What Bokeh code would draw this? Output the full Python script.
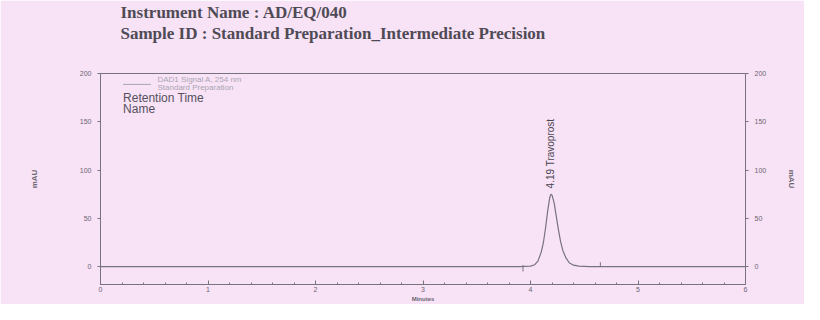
import math
from bokeh.plotting import figure
from bokeh.models import Range1d, LinearAxis, Title, FixedTicker
from bokeh.core.properties import value
from bokeh.embed import file_html
from bokeh.resources import INLINE

# ---- data ----
time_min = [0.0, 3.90, 4.00, 4.04, 4.07, 4.10, 4.12, 4.14, 4.16, 4.18, 4.19, 4.20,
            4.22, 4.24, 4.26, 4.28, 4.30, 4.33, 4.36, 4.40, 4.45, 4.55, 6.0]
signal_mau = [0.0, 0.0, 0.5, 2.0, 6.0, 15.0, 25.0, 40.0, 58.0, 72.0, 75.0, 74.0,
              66.0, 52.0, 38.0, 26.0, 17.0, 9.0, 4.0, 1.5, 0.5, 0.0, 0.0]
peak_rt = 4.19
peak_name = "Travoprost"
peak_height = 75.0
mark_start = 3.93
mark_end = 4.65
x_ticks = [0, 1, 2, 3, 4, 5, 6]
y_ticks = [0, 50, 100, 150, 200]
title_lines = ["Instrument Name : AD/EQ/040",
               "Sample ID : Standard Preparation_Intermediate Precision"]

BG = "#f8e2f6"
LINE = "#77737f"
TXT = "#6a6670"

p = figure(width=804, height=304, output_backend="svg", toolbar_location=None, title=None,
           x_range=Range1d(0, 6), y_range=Range1d(-18.5, 200),
           min_border_left=100, min_border_right=59, min_border_top=73, min_border_bottom=18)
p.background_fill_color = BG
p.border_fill_color = BG
p.outline_line_color = LINE
p.outline_line_width = 1
p.xgrid.visible = False
p.ygrid.visible = False

# spacer between frame and titles, then the two header lines
p.add_layout(Title(text=" ", text_font_size="1px", standoff=28, text_color=BG), "above")
p.add_layout(Title(text=title_lines[1], align="left", offset=20, standoff=0,
                   text_font="Liberation Serif", text_font_style="bold",
                   text_font_size="17px", text_color="#4f4b55"), "above")
p.add_layout(Title(text=title_lines[0], align="left", offset=20, standoff=0,
                   text_font="Liberation Serif", text_font_style="bold",
                   text_font_size="17px", text_color="#4f4b55"), "above")

# x axis
xa = p.xaxis[0]
xa.ticker = FixedTicker(ticks=x_ticks, minor_ticks=[i * 0.2 for i in range(31)])
xa.axis_label = "Minutes"
xa.axis_line_color = LINE
xa.major_tick_line_color = LINE
xa.minor_tick_line_color = LINE
xa.major_tick_in = 4
xa.major_tick_out = 0
xa.minor_tick_in = 2
xa.minor_tick_out = 0
xa.major_label_standoff = 2
xa.major_label_text_font_size = "7px"
xa.major_label_text_color = TXT
xa.major_label_text_font = "Liberation Sans"
xa.axis_label_text_font_size = "6px"
xa.axis_label_text_font_style = "bold"
xa.axis_label_text_color = TXT
xa.axis_label_text_font = "Liberation Sans"
xa.axis_label_standoff = 1

ya = p.yaxis[0]
ra = LinearAxis()
p.add_layout(ra, "right")
for ax, so in [(ya, 38), (ra, 18)]:
    ax.ticker = FixedTicker(ticks=y_ticks, minor_ticks=[])
    ax.axis_label = "mAU"
    ax.axis_line_color = LINE
    ax.major_tick_line_color = LINE
    ax.major_tick_in = 0
    ax.major_tick_out = 3
    ax.minor_tick_in = 0
    ax.minor_tick_out = 0
    ax.major_label_standoff = 6
    ax.major_label_text_font_size = "7px"
    ax.major_label_text_color = TXT
    ax.major_label_text_font = "Liberation Sans"
    ax.axis_label_text_font_size = "8px"
    ax.axis_label_text_font_style = "bold"
    ax.axis_label_text_color = TXT
    ax.axis_label_text_font = "Liberation Sans"
    ax.axis_label_standoff = so

# chromatogram trace
p.line(time_min, signal_mau, line_color=LINE, line_width=1.2)

# integration marks
p.segment(x0=[mark_start, mark_end], y0=[1.5, 0.0], x1=[mark_start, mark_end], y1=[-5.0, 4.5],
          line_color=LINE, line_width=1)

# peak label
p.text(x=[peak_rt], y=[peak_height + 6], text=[f"{peak_rt:.2f} {peak_name}"],
       angle=math.pi / 2, text_align="left", text_baseline="middle",
       text_font=value("Liberation Sans"), text_font_size="10px", text_color="#4a4650")

# legend-like header inside the plot
p.line([0.21, 0.47], [188.7, 188.7], line_color="#a9a5b0", line_width=1)
p.text(x=[0.53, 0.53], y=[193.5, 185.3], text=["DAD1 Signal A, 254 nm", "Standard Preparation"],
       text_font=value("Liberation Sans"), text_font_size="8px", text_color="#aaa6b2",
       text_baseline="middle")
p.text(x=[0.21, 0.21], y=[175.0, 163.5], text=["Retention Time", "Name"],
       text_font=value("Liberation Sans"), text_font_size="12px", text_color="#55515b",
       text_baseline="middle")

open("out.html", "w").write(file_html(p, INLINE))
